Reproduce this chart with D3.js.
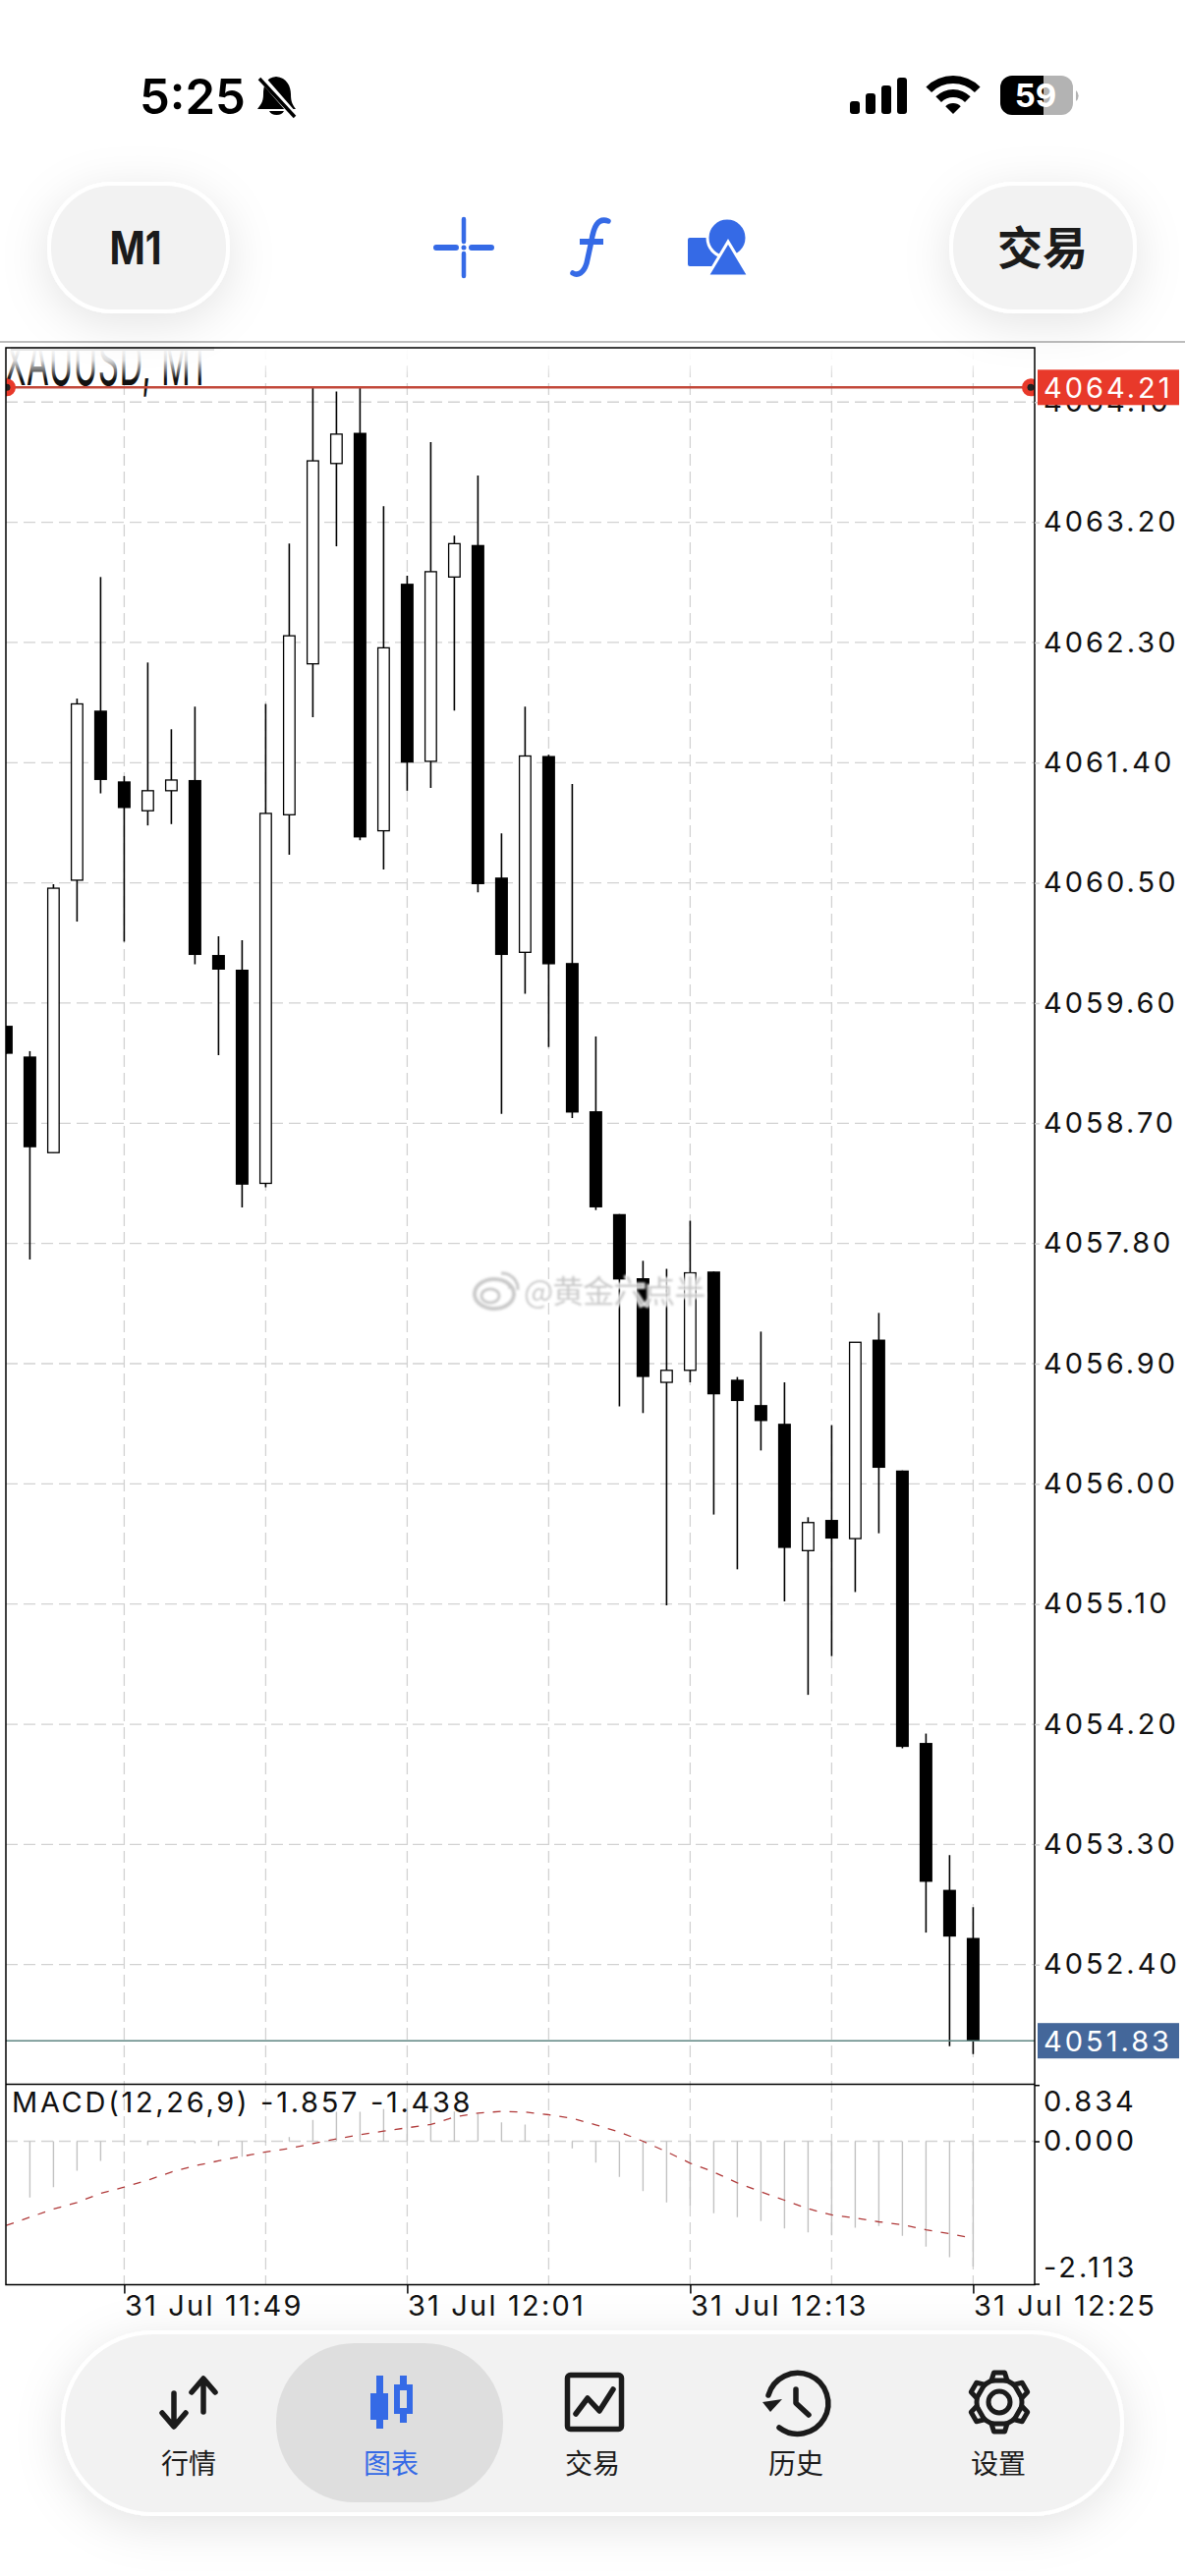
<!DOCTYPE html>
<html>
<head>
<meta charset="utf-8">
<title>M1</title>
<script src="https://cdn.jsdelivr.net/npm/d3@7/dist/d3.min.js"></script>
<style>
  html, body { margin: 0; padding: 0; background: #fff; }
  svg { display: block; }
  text { font-family: Inter, "Noto Sans CJK SC", sans-serif; }
  .cjk { font-family: "Noto Sans CJK SC", sans-serif; }
</style>
</head>
<body>
<div id="chart"></div>
<script>
// candle values, one per minute starting at 11:44
var opens = [4059.43,4059.20,4058.48,4060.52,4061.79,4061.26,4061.04,4061.19,4061.27,4059.96,4059.85,4058.25,4061.01,4062.14,4063.64,4063.87,4060.89,4062.74,4061.41,4062.79,4063.03,4060.54,4059.98,4061.45,4059.90,4058.79,4058.02,4057.54,4056.76,4056.85,4057.59,4056.78,4056.59,4056.45,4055.50,4055.73,4055.59,4057.08,4056.10,4054.06,4052.96,4052.60];
var highs = [4059.43,4059.24,4060.49,4061.88,4062.79,4061.30,4062.15,4061.65,4061.82,4060.10,4060.07,4061.84,4063.04,4064.21,4064.18,4064.21,4063.32,4062.80,4063.80,4063.10,4063.55,4060.87,4061.82,4061.46,4061.24,4059.35,4058.02,4057.67,4057.61,4057.97,4057.59,4056.80,4057.14,4056.76,4055.75,4056.44,4057.06,4057.28,4056.10,4054.13,4053.22,4052.83];
var lows = [4059.22,4057.68,4058.48,4060.21,4061.17,4060.06,4060.93,4060.94,4059.89,4059.21,4058.07,4058.22,4060.71,4061.74,4063.02,4060.82,4060.60,4061.19,4061.21,4061.79,4060.43,4058.77,4059.67,4059.27,4058.74,4058.05,4056.58,4056.53,4055.09,4056.76,4055.77,4055.36,4056.25,4055.12,4054.42,4054.71,4055.19,4055.63,4054.02,4052.64,4051.79,4051.73];
var closes = [4059.22,4058.52,4060.46,4061.84,4061.27,4061.06,4061.19,4061.27,4059.96,4059.85,4058.24,4061.02,4062.35,4063.66,4063.86,4060.84,4062.26,4061.40,4062.83,4063.04,4060.49,4059.96,4061.45,4059.89,4058.78,4058.07,4057.53,4056.80,4056.85,4057.58,4056.67,4056.62,4056.47,4055.52,4055.71,4055.59,4057.06,4056.12,4054.03,4053.02,4052.61,4051.83];

// MACD histogram and signal line
var macdHist = [0,-0.835,-0.68,-0.437,-0.291,-0.01,-0.058,-0.005,-0.03,-0.068,-0.228,-0.02,0.063,0.316,0.437,0.437,0.476,0.5,0.49,0.44,0.41,0.28,0.248,0.02,-0.107,-0.316,-0.529,-0.738,-0.908,-0.95,-1.068,-1.126,-1.184,-1.291,-1.35,-1.393,-1.282,-1.257,-1.403,-1.563,-1.718,-1.857];
var macdSignal = [-1.248,-1.126,-1.005,-0.908,-0.772,-0.68,-0.578,-0.456,-0.364,-0.291,-0.223,-0.16,-0.107,-0.034,0.034,0.097,0.15,0.199,0.248,0.359,0.417,0.442,0.432,0.393,0.34,0.243,0.136,0,-0.155,-0.325,-0.456,-0.617,-0.748,-0.874,-1,-1.092,-1.136,-1.194,-1.238,-1.311,-1.369,-1.438];

// axis ticks
var priceTicks = [4064.10,4063.20,4062.30,4061.40,4060.50,4059.60,4058.70,4057.80,4056.90,4056.00,4055.10,4054.20,4053.30,4052.40];
var macdTicks = [0.834,0,-2.113];
var gridBars = [5,11,17,23,29,35,41];
var labelBars = [5,17,29,41];
var timeLabels = ["31 Jul 11:49","31 Jul 12:01","31 Jul 12:13","31 Jul 12:25"];
var askPrice = 4064.21, lastPrice = 4051.83;

// nav bar
var navItems = ["行情","图表","交易","历史","设置"];
var navCenters = [192,398,603,810,1016];

var W = 1206, H = 2622;
var plotLeft = 6, plotRight = 1053, plotTop = 354, mainBottom = 2121.5, subBottom = 2325.5;
var blue = "#356ae6", dark = "#1b1b1b";

var svg = d3.select("#chart").append("svg").attr("width", W).attr("height", H).attr("viewBox", "0 0 " + W + " " + H);
var defs = svg.append("defs");

var shadow = defs.append("filter").attr("id", "shadow").attr("x", "-30%").attr("y", "-40%").attr("width", "160%").attr("height", "190%");
shadow.append("feDropShadow").attr("dx", 0).attr("dy", 10).attr("stdDeviation", 24).attr("flood-color", "#000").attr("flood-opacity", 0.11);
var soft = defs.append("filter").attr("id", "soft");
soft.append("feGaussianBlur").attr("stdDeviation", 1);

defs.append("clipPath").attr("id", "clip-main").append("rect").attr("x", plotLeft).attr("y", plotTop).attr("width", plotRight - plotLeft).attr("height", mainBottom - plotTop);
defs.append("clipPath").attr("id", "clip-sub").append("rect").attr("x", plotLeft).attr("y", mainBottom).attr("width", plotRight - plotLeft).attr("height", subBottom - mainBottom);
defs.append("clipPath").attr("id", "clip-batt").append("rect").attr("x", 1018).attr("y", 77).attr("width", 74).attr("height", 40).attr("rx", 12);

var fade = defs.append("linearGradient").attr("id", "fade").attr("x1", 0).attr("y1", 0).attr("x2", 0).attr("y2", 1);
fade.append("stop").attr("offset", "0%").attr("stop-color", "#fff").attr("stop-opacity", 1);
fade.append("stop").attr("offset", "40%").attr("stop-color", "#fff").attr("stop-opacity", 0.85);
fade.append("stop").attr("offset", "100%").attr("stop-color", "#fff").attr("stop-opacity", 0);

// scales
var x = d3.scaleLinear().domain([0, 41]).range([6.4, 990.4]);
var y = d3.scaleLinear().domain([askPrice, lastPrice]).range([394.3, 2077.2]);
var yMacd = d3.scaleLinear().domain([0.834, -2.113]).range([2122.2, 2324.6]);

/* grid */
var gridColor = "#d2d2d2";
var grid = svg.append("g").attr("stroke", gridColor).attr("stroke-width", 1.3).attr("stroke-dasharray", "12 6");
grid.selectAll(".gy").data(priceTicks).enter().append("line")
  .attr("x1", plotLeft).attr("x2", plotRight).attr("y1", d => y(d)).attr("y2", d => y(d));
grid.selectAll(".gx").data(gridBars).enter().append("line")
  .attr("x1", d => x(d)).attr("x2", d => x(d)).attr("y1", plotTop).attr("y2", subBottom);
grid.append("line").attr("x1", plotLeft).attr("x2", plotRight).attr("y1", yMacd(0)).attr("y2", yMacd(0));

/* candles */
var candles = svg.append("g").attr("clip-path", "url(#clip-main)");
var bars = d3.range(opens.length);
candles.selectAll(".wick").data(bars).enter().append("line")
  .attr("x1", i => x(i)).attr("x2", i => x(i))
  .attr("y1", i => y(highs[i])).attr("y2", i => y(lows[i]))
  .attr("stroke", "#000").attr("stroke-width", 1.6);
candles.selectAll(".body").data(bars).enter().append("rect")
  .attr("x", i => x(i) - (closes[i] > opens[i] ? 5.8 : 6.5))
  .attr("width", i => closes[i] > opens[i] ? 11.6 : 13)
  .attr("y", i => y(Math.max(opens[i], closes[i])))
  .attr("height", i => Math.abs(y(opens[i]) - y(closes[i])))
  .attr("fill", i => closes[i] > opens[i] ? "#fff" : "#000")
  .attr("stroke", i => closes[i] > opens[i] ? "#000" : "none")
  .attr("stroke-width", 1.3);

/* last price line */
svg.append("line").attr("x1", plotLeft).attr("x2", plotRight).attr("y1", y(lastPrice)).attr("y2", y(lastPrice))
  .attr("stroke", "#5f8582").attr("stroke-width", 1.5);

/* symbol title, half hidden by the blurred header */
var title = svg.append("g").attr("clip-path", "url(#clip-main)");
title.append("text").attr("transform", "translate(4,391.5) scale(1,2.05)")
  .attr("font-size", 33).attr("letter-spacing", 0.5).attr("fill", "#111").text("XAUUSD, M1");
title.append("rect").attr("x", plotLeft).attr("y", plotTop).attr("width", plotRight - plotLeft).attr("height", 32).attr("fill", "url(#fade)");
svg.append("rect").attr("x", 11).attr("y", 353).attr("width", 207).attr("height", 4).attr("fill", "#e4e4e4");

/* red ask line */
var ask = svg.append("g").attr("clip-path", "url(#clip-main)");
ask.append("line").attr("x1", plotLeft).attr("x2", plotRight).attr("y1", y(askPrice)).attr("y2", y(askPrice))
  .attr("stroke", "#c2483a").attr("stroke-width", 2.6);
[7, 1049].forEach(function(cx) {
  ask.append("circle").attr("cx", cx).attr("cy", y(askPrice)).attr("r", 9).attr("fill", "#e8392a");
  ask.append("circle").attr("cx", cx).attr("cy", y(askPrice)).attr("r", 3.5).attr("fill", "#222");
});

/* MACD panel */
var macd = svg.append("g").attr("clip-path", "url(#clip-sub)");
macd.selectAll(".hist").data(bars).enter().append("line")
  .attr("x1", i => x(i)).attr("x2", i => x(i))
  .attr("y1", yMacd(0)).attr("y2", i => yMacd(macdHist[i]))
  .attr("stroke", "#c2c2c2").attr("stroke-width", 1.4);
macd.append("path")
  .attr("d", d3.line().x((d, i) => x(i)).y(d => yMacd(d))(macdSignal))
  .attr("fill", "none").attr("stroke", "#b03a3a").attr("stroke-width", 1.3).attr("stroke-dasharray", "8 9");

/* frame */
svg.append("rect").attr("x", plotLeft).attr("y", plotTop).attr("width", plotRight - plotLeft).attr("height", subBottom - plotTop)
  .attr("fill", "none").attr("stroke", "#000").attr("stroke-width", 1.5);
svg.append("line").attr("x1", plotLeft).attr("x2", plotRight).attr("y1", mainBottom).attr("y2", mainBottom).attr("stroke", "#000").attr("stroke-width", 1.5);

/* axes */
var labelStyle = function(g) {
  g.attr("font-family", null).attr("font-size", null);
  g.select(".domain").remove();
  g.selectAll("line").attr("stroke", "#000").attr("stroke-width", 1.5);
  g.selectAll("text").attr("fill", "#111").attr("font-size", 29).attr("letter-spacing", 3);
};
var asciiMinus = f => (d => f(d).replace("−", "-"));
svg.append("g").attr("transform", "translate(" + plotRight + ",0)")
  .call(d3.axisRight(y).tickValues(priceTicks).tickSize(5).tickPadding(4).tickFormat(d3.format(".2f")))
  .call(labelStyle)
  .call(g => g.selectAll("line").attr("stroke", gridColor));
svg.append("g").attr("transform", "translate(" + plotRight + ",0)")
  .call(d3.axisRight(yMacd).tickValues(macdTicks).tickSize(5).tickPadding(4).tickFormat(asciiMinus(d3.format(".3f"))))
  .call(labelStyle)
  .call(g => g.selectAll("text").attr("dy", d => d === 0 ? "0.32em" : (d > 0 ? "0.9em" : "-0.25em")));
svg.append("g").attr("transform", "translate(0," + subBottom + ")")
  .call(d3.axisBottom(x).tickValues(labelBars).tickSize(9).tickPadding(2).tickFormat((d, i) => timeLabels[i]))
  .call(labelStyle)
  .call(g => g.selectAll("text").attr("text-anchor", "start").attr("x", 0).attr("letter-spacing", 2.2));

svg.append("text").attr("x", 12).attr("y", 2150).attr("font-size", 29).attr("letter-spacing", 2.7).attr("fill", "#111")
  .text("MACD(12,26,9) -1.857 -1.438");

/* price flags */
function flag(price, color) {
  svg.append("rect").attr("x", 1056).attr("y", y(price) - 18).attr("width", 144).attr("height", 36).attr("fill", color);
  svg.append("text").attr("x", 1062).attr("y", y(price)).attr("dy", "0.36em")
    .attr("font-size", 29).attr("letter-spacing", 3).attr("fill", "#fff").text(d3.format(".2f")(price));
}
flag(askPrice, "#e8392a");
flag(lastPrice, "#44679a");

/* watermark */
var mark = svg.append("g").attr("filter", "url(#soft)").attr("opacity", 0.9);
mark.append("ellipse").attr("cx", 503).attr("cy", 1317).attr("rx", 20).attr("ry", 15)
  .attr("fill", "#fff").attr("stroke", "#c4c4c4").attr("stroke-width", 4);
mark.append("ellipse").attr("cx", 499).attr("cy", 1319).attr("rx", 9).attr("ry", 7)
  .attr("fill", "none").attr("stroke", "#c4c4c4").attr("stroke-width", 3);
mark.append("path").attr("d", "M510,1296 A16,16 0 0 1 527,1313 M511,1304 A8,8 0 0 1 519,1312")
  .attr("fill", "none").attr("stroke", "#c4c4c4").attr("stroke-width", 3);
mark.append("text").attr("class", "cjk").attr("x", 533).attr("y", 1326).attr("font-size", 32).attr("letter-spacing", -1)
  .attr("fill", "#c4c4c4").attr("stroke", "#fff").attr("stroke-width", 4).attr("paint-order", "stroke")
  .text("@黄金六点半");

/* header: rule and pills */
svg.append("line").attr("x1", 0).attr("x2", W).attr("y1", 348).attr("y2", 348).attr("stroke", "#bdbdbd").attr("stroke-width", 2);

function pill(px, py, pw, ph, r) {
  svg.append("rect").attr("x", px).attr("y", py).attr("width", pw).attr("height", ph).attr("rx", r)
    .attr("fill", "#f2f2f2").attr("stroke", "#fff").attr("stroke-width", 4).attr("filter", "url(#shadow)");
}
pill(50, 187, 182, 130, 64);
pill(968, 187, 187, 130, 64);
svg.append("text").attr("x", 138).attr("y", 252).attr("dy", "0.36em").attr("text-anchor", "middle")
  .attr("font-size", 46).attr("font-weight", 700).attr("fill", dark)
  .attr("textLength", 53).attr("lengthAdjust", "spacingAndGlyphs").text("M1");
svg.append("text").attr("class", "cjk").attr("x", 1061).attr("y", 252).attr("dy", "0.36em").attr("text-anchor", "middle")
  .attr("font-size", 46).attr("font-weight", 700).attr("fill", dark).text("交易");

// crosshair icon
var tools = svg.append("g");
tools.append("path").attr("d", "M444,252H464M480,252H500").attr("stroke", blue).attr("stroke-width", 6).attr("stroke-linecap", "round");
tools.append("path").attr("d", "M472,223V246M472,258V281").attr("stroke", blue).attr("stroke-width", 4.5).attr("stroke-linecap", "round");
tools.append("circle").attr("cx", 472).attr("cy", 252).attr("r", 2.5).attr("fill", blue);
// f icon
tools.append("path").attr("d", "M619,225C608,221 604,232 602,245L597,268C594,278 588,281 583,278")
  .attr("fill", "none").attr("stroke", blue).attr("stroke-width", 5.5).attr("stroke-linecap", "round");
tools.append("path").attr("d", "M590,246H614").attr("stroke", blue).attr("stroke-width", 6);
// shapes icon
tools.append("rect").attr("x", 700).attr("y", 242).attr("width", 32).attr("height", 29).attr("rx", 2).attr("fill", blue);
tools.append("circle").attr("cx", 740).attr("cy", 242).attr("r", 20).attr("fill", blue).attr("stroke", "#fff").attr("stroke-width", 3);
tools.append("path").attr("d", "M741,246L762,281H720Z").attr("fill", blue).attr("stroke", "#fff").attr("stroke-width", 3);

/* status bar */
svg.append("text").attr("x", 142).attr("y", 116).attr("font-size", 49).attr("font-weight", 600).attr("fill", "#000").text("5:25");
var bell = svg.append("g");
bell.append("path").attr("d", "M281,78C270,79 268,88 268,96C268,104 265,107 262,111H301C298,107 296,104 296,96C296,88 292,79 281,78Z").attr("fill", "#000");
bell.append("path").attr("d", "M274,113A8,6 0 0 0 289,113Z").attr("fill", "#000");
bell.append("path").attr("d", "M265,78L300,118").attr("stroke", "#fff").attr("stroke-width", 7);
bell.append("path").attr("d", "M264,80L300,119").attr("stroke", "#000").attr("stroke-width", 3.5);

[[865,103],[881,95],[897,87],[913,79]].forEach(function(b) {
  svg.append("rect").attr("x", b[0]).attr("y", b[1]).attr("width", 10).attr("height", 116 - b[1]).attr("rx", 3).attr("fill", "#000");
});
var wifi = svg.append("g").attr("transform", "translate(970,116)");
var wedge = Math.PI / 4;
[[0, 11], [17, 25], [31, 39]].forEach(function(r) {
  wifi.append("path").attr("fill", "#000")
    .attr("d", d3.arc().innerRadius(r[0]).outerRadius(r[1]).startAngle(-wedge).endAngle(wedge)());
});
var batt = svg.append("g").attr("clip-path", "url(#clip-batt)");
batt.append("rect").attr("x", 1018).attr("y", 77).attr("width", 44).attr("height", 40).attr("fill", "#000");
batt.append("rect").attr("x", 1062).attr("y", 77).attr("width", 30).attr("height", 40).attr("fill", "#b3b3b3");
svg.append("path").attr("d", "M1095,92A7,7 0 0 1 1095,103Z").attr("fill", "#b3b3b3");
svg.append("text").attr("x", 1054).attr("y", 97).attr("dy", "0.36em").attr("text-anchor", "middle")
  .attr("font-size", 33).attr("font-weight", 700).attr("fill", "#fff").text("59");

/* bottom nav */
pill(64, 2374, 1078, 185, 92);
svg.append("rect").attr("x", 281).attr("y", 2385).attr("width", 231).attr("height", 162).attr("rx", 80).attr("fill", "#dedede");

svg.selectAll(".nav-label").data(navItems).enter().append("text")
  .attr("class", "cjk")
  .attr("x", (d, i) => navCenters[i]).attr("y", 2508).attr("dy", "0.36em").attr("text-anchor", "middle")
  .attr("font-size", 28).attr("fill", (d, i) => i === 1 ? blue : dark)
  .text(d => d);

// quotes icon
var nav = svg.append("g").attr("fill", "none").attr("stroke", dark).attr("stroke-width", 5.5).attr("stroke-linecap", "round").attr("stroke-linejoin", "round");
nav.append("path").attr("d", "M177,2436V2469M165,2456L177,2470L189,2456");
nav.append("path").attr("d", "M207,2455V2422M195,2435L207,2421L219,2435");
// chart icon (active)
svg.append("rect").attr("x", 383).attr("y", 2418).attr("width", 7).attr("height", 54).attr("fill", blue);
svg.append("rect").attr("x", 377).attr("y", 2436).attr("width", 18).attr("height", 27).attr("fill", blue);
svg.append("rect").attr("x", 407).attr("y", 2418).attr("width", 7).attr("height", 48).attr("fill", blue);
svg.append("rect").attr("x", 404).attr("y", 2430).attr("width", 13).attr("height", 24).attr("fill", "#dedede").attr("stroke", blue).attr("stroke-width", 6);
// trade icon
nav.append("rect").attr("x", 577.5).attr("y", 2417.5).attr("width", 55).attr("height", 55).attr("rx", 3);
nav.append("path").attr("d", "M586,2457L598,2441L610,2454L624,2432");
// history icon
nav.append("path").attr("d", "M782,2438A31,31 0 1 1 793,2471");
nav.append("path").attr("d", "M810,2432V2446L823,2458");
svg.append("path").attr("d", "M776,2445L796,2442L784,2455Z").attr("fill", dark);
// settings icon
var gear = svg.append("g").attr("transform", "translate(1017,2445)");
gear.append("circle").attr("r", 11).attr("fill", "none").attr("stroke", dark).attr("stroke-width", 5);
gear.append("circle").attr("r", 23).attr("fill", "none").attr("stroke", dark).attr("stroke-width", 5);
d3.range(6).forEach(function(k) {
  gear.append("path").attr("transform", "rotate(" + (k * 60) + ")")
    .attr("d", "M-8,-22L-5.5,-30H5.5L8,-22Z").attr("fill", "#f2f2f2").attr("stroke", dark).attr("stroke-width", 5).attr("stroke-linejoin", "round");
});
</script>
</body>
</html>
